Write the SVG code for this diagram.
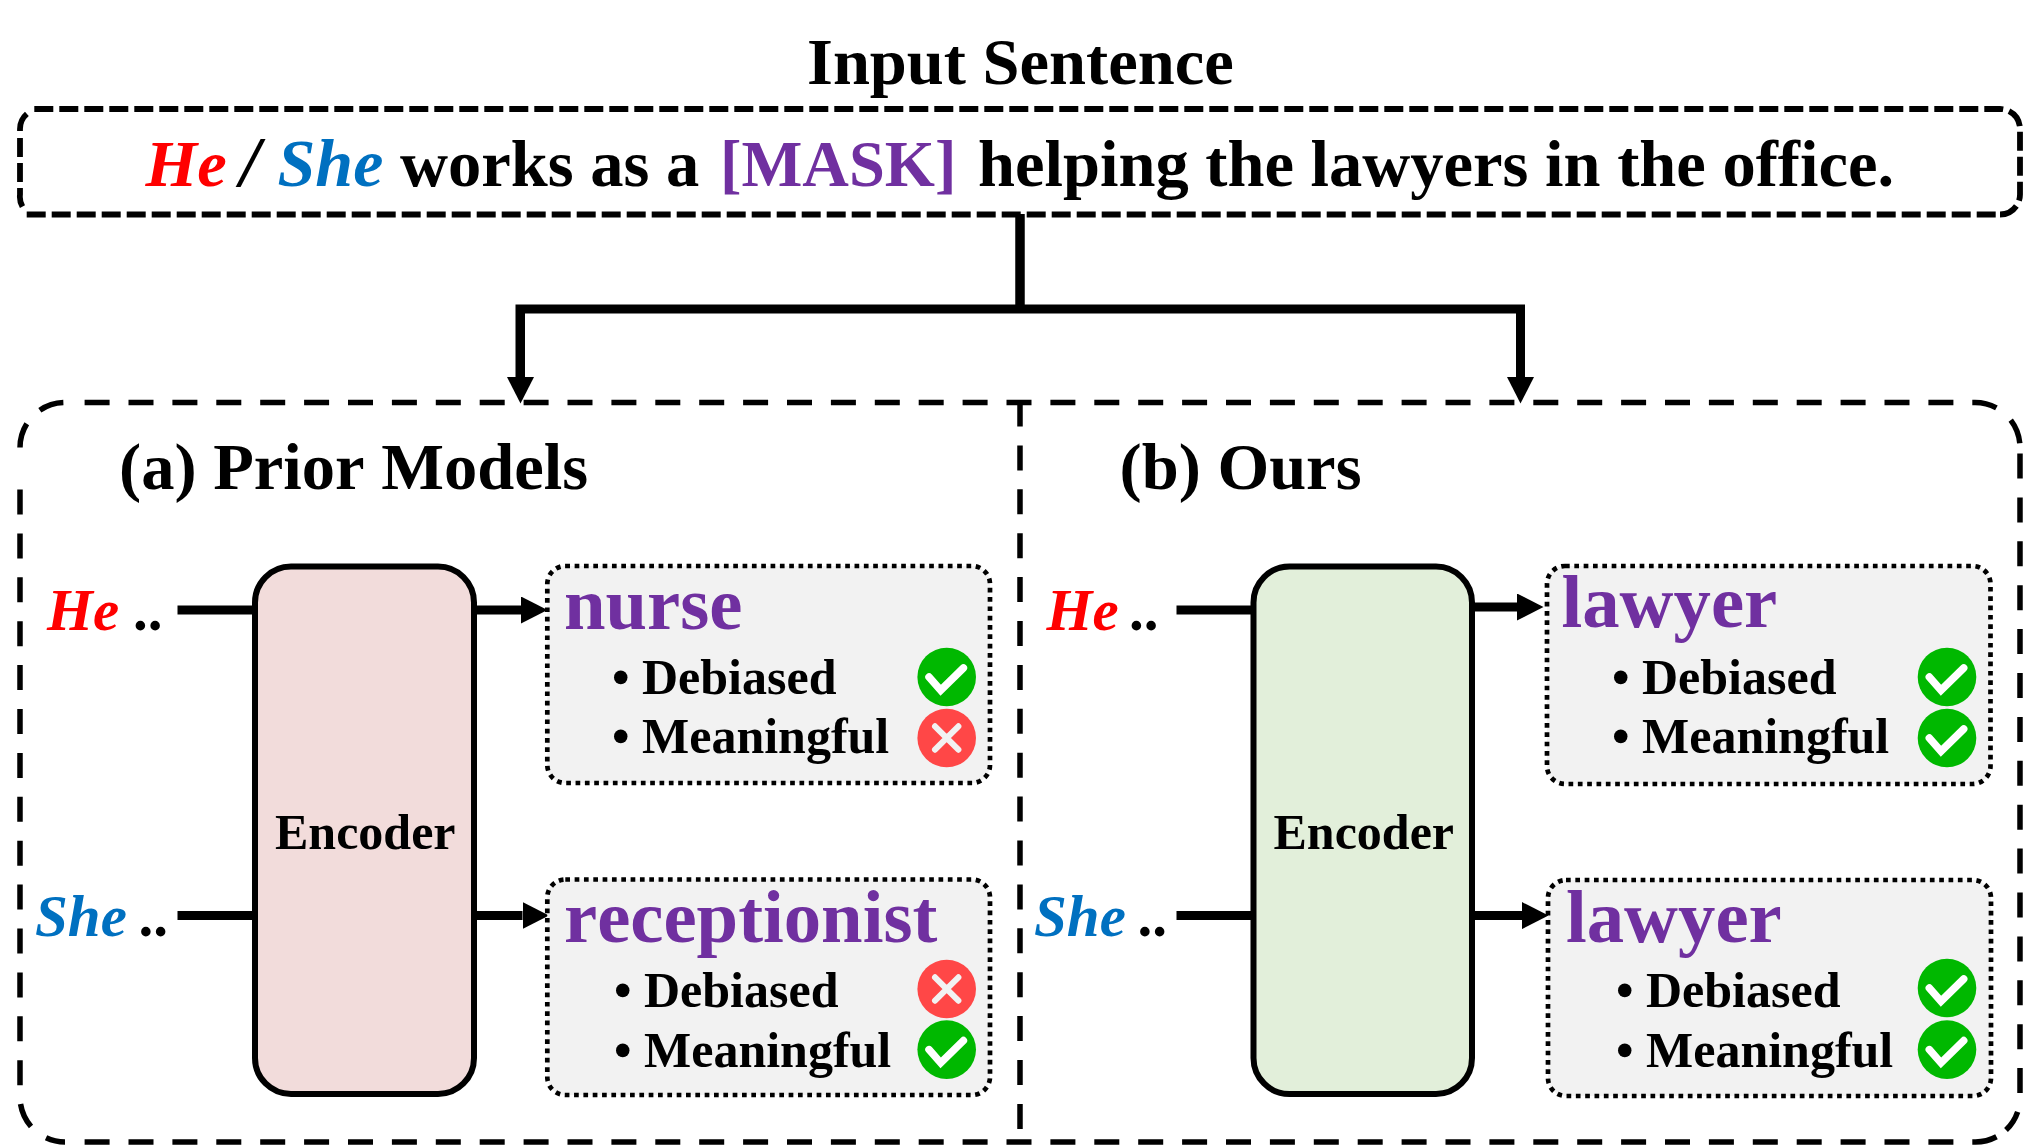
<svg xmlns="http://www.w3.org/2000/svg" width="2023" height="1145" viewBox="0 0 2023 1145">
<style>
text{font-family:"Liberation Serif","Times New Roman",serif;font-weight:bold;fill:#000;font-kerning:none}
.i{font-style:italic}
.r{fill:#f00}.b{fill:#0070C0}.p{fill:#7030A0}
.big{font-size:66.5px}
.lab{font-size:59px}
.word{font-size:74.7px;fill:#7030A0}
.item{font-size:50px}
.wire{fill:none;stroke:#000;stroke-width:9}
.enc{stroke:#000;stroke-width:6}
.dot{fill:#F2F2F2;stroke:#000;stroke-width:4.700;stroke-dasharray:4.700 4.630}
.dash1{fill:none;stroke:#000;stroke-width:5.800;stroke-dasharray:19 6}
.dash2{fill:none;stroke:#000;stroke-width:5.500;stroke-dasharray:25 18.900}
.ok{fill:#00B800}.no{fill:#FF4747}
.tick{fill:none;stroke:#fff;stroke-width:7.500;stroke-linecap:round;stroke-linejoin:miter}
.cross{fill:none;stroke:#F2F2F2;stroke-width:6;stroke-linecap:round}
</style>
<defs>
<marker id="arrow" markerUnits="userSpaceOnUse" markerWidth="27" markerHeight="27" refX="0" refY="13.5" orient="auto"><path d="M0 0L26.500 13.500L0 27Z" fill="#000"/></marker>
<g id="okmark"><circle r="29.3" class="ok"/><path d="M-17.700 0L-6 13.300L16.700-9" class="tick"/></g>
<g id="nomark"><circle r="29.3" class="no"/><path d="M-11.700-11.700L11.700 11.700M11.700-11.700L-11.700 11.700" class="cross"/></g>
</defs>
<rect width="2023" height="1145" fill="#fff"/>
<g id="title"><text class="big" x="807" y="84">Input Sentence</text></g>
<g id="sentence">
<path class="dash1" d="M34.300 109H2000A20 20 0 0 1 2020 129M2020 131.700V194.500A20 20 0 0 1 2000 214.500M26.700 214.500H2000M20 138V194.500A20 20 0 0 0 24 209M20 131V129A20 20 0 0 1 30 111.700"/>
<text class="big" y="186"><tspan class="i r" x="145.500">He</tspan><tspan class="i" x="240" style="font-size:72px">/</tspan><tspan class="i b" x="277.500" style="font-size:68px">She</tspan><tspan x="400">works as a</tspan><tspan class="p" x="720" style="font-size:64.500px">[MASK]</tspan><tspan x="978">helping the lawyers in the office.</tspan></text>
</g>
<g id="connectors">
<path class="wire" style="stroke-width:9.500" d="M1020 214V309"/>
<path class="wire" d="M520 377V309H1520.500V377" marker-end="url(#arrow)"/>
<path class="wire" d="M520.500 309V377" marker-end="url(#arrow)"/>
<path class="wire" d="M177.500 610H255"/>
<path class="wire" d="M177.500 915.600H255"/>
<path class="wire" d="M474 610H521" marker-end="url(#arrow)"/>
<path class="wire" d="M474 915.600H522.500" marker-end="url(#arrow)"/>
<path class="wire" d="M1176.500 610H1253"/>
<path class="wire" d="M1176.500 915.600H1253"/>
<path class="wire" d="M1472 607H1517" marker-end="url(#arrow)"/>
<path class="wire" d="M1472 915.600H1522" marker-end="url(#arrow)"/>
</g>
<g id="panel">
<path class="dash2" d="M20 447.500A45 45 0 0 1 65 402.500M84.600 402.500H1975A45 45 0 0 1 2020 447.500M2020 453.500V1097A45 45 0 0 1 2006 1130M84.600 1142H1975A45 45 0 0 0 2006 1130M20 489.500V1097A45 45 0 0 0 65 1142M1020 401.500V1142"/>
</g>
<g id="label-a"><text class="big" x="119" y="488.500">(a) Prior Models</text></g>
<g id="label-b"><text class="big" x="1119.500" y="488.500">(b) Ours</text></g>
<g id="input-he-a"><text class="lab" y="630"><tspan class="i r" x="47">He</tspan><tspan x="133">..</tspan></text></g>
<g id="input-she-a"><text class="lab" y="936"><tspan class="i b" x="35">She</tspan><tspan x="138.500">..</tspan></text></g>
<g id="input-he-b"><text class="lab" y="630"><tspan class="i r" x="1046.500">He</tspan><tspan x="1129">..</tspan></text></g>
<g id="input-she-b"><text class="lab" y="936"><tspan class="i b" x="1034">She</tspan><tspan x="1137.500">..</tspan></text></g>
<g id="encoder-a"><rect class="enc" x="255" y="566.500" width="219" height="527.500" rx="36" fill="#F2DCDB"/><text class="item" x="275" y="848.500">Encoder</text></g>
<g id="encoder-b"><rect class="enc" x="1253.500" y="566.500" width="218.500" height="527.500" rx="36" fill="#E2EFDA"/><text class="item" x="1273.500" y="848.500">Encoder</text></g>
<g id="result-nurse">
<rect class="dot" x="547.300" y="566" width="442.700" height="217" rx="18"/>
<text class="word" x="564" y="629">nurse</text>
<text class="item" x="612" y="693.500">• Debiased</text>
<text class="item" x="612" y="753">• Meaningful</text>
<use href="#okmark" x="946.700" y="677"/><use href="#nomark" x="946.700" y="738"/>
</g>
<g id="result-receptionist">
<rect class="dot" x="547.300" y="879.500" width="442.700" height="215.500" rx="18"/>
<text class="word" x="564" y="942">receptionist</text>
<text class="item" x="614" y="1007">• Debiased</text>
<text class="item" x="614" y="1067">• Meaningful</text>
<use href="#nomark" x="946.700" y="989"/><use href="#okmark" x="946.700" y="1049.600"/>
</g>
<g id="result-lawyer-1">
<rect class="dot" x="1547" y="566" width="443.500" height="218" rx="18"/>
<text class="word" x="1561.500" y="626.500">lawyer</text>
<text class="item" x="1612" y="693.500">• Debiased</text>
<text class="item" x="1612" y="753">• Meaningful</text>
<use href="#okmark" x="1947" y="677"/><use href="#okmark" x="1947" y="738"/>
</g>
<g id="result-lawyer-2">
<rect class="dot" x="1548" y="880" width="443" height="216" rx="18"/>
<text class="word" x="1566" y="942">lawyer</text>
<text class="item" x="1616" y="1007">• Debiased</text>
<text class="item" x="1616" y="1067">• Meaningful</text>
<use href="#okmark" x="1947" y="988"/><use href="#okmark" x="1947" y="1049.600"/>
</g>
</svg>
